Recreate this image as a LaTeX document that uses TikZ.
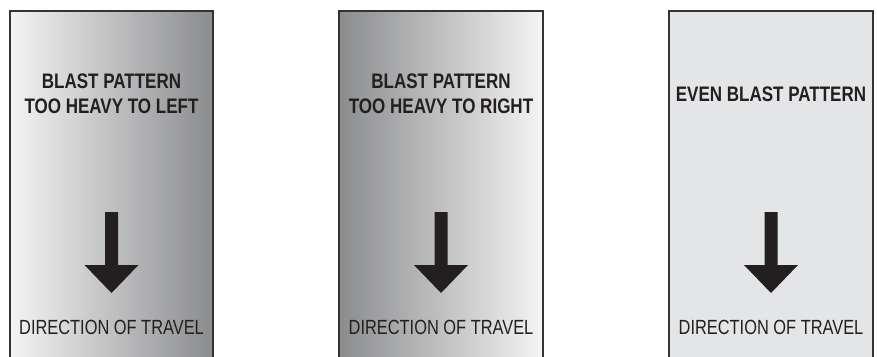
\documentclass[tikz,border=0pt]{standalone}
\usepackage{fontspec}
\setmainfont[FakeStretch=0.8]{Liberation Sans}
\newfontfamily\condbold[FakeStretch=0.81]{Liberation Sans}
\definecolor{ink}{HTML}{231F20}
\definecolor{frame}{HTML}{333333}
\definecolor{lightg}{HTML}{F4F4F4}
\definecolor{darkg}{HTML}{8B8C8E}
\definecolor{flatg}{HTML}{E4E5E7}
\begin{document}
\begin{tikzpicture}[x=1pt,y=1pt,
  panelframe/.style={draw=frame,line width=1.6pt},
  titletext/.style={anchor=base,inner sep=0pt,text=ink,font=\condbold\bfseries\fontsize{21}{24}\selectfont},
  dirtext/.style={anchor=base,inner sep=0pt,text=ink,font=\fontsize{20.5}{24}\selectfont},
  arrowshape/.style={fill=ink,draw=none}]
\useasboundingbox (0,0) rectangle (877,-356);
% panel 1
\shade[left color=lightg,right color=darkg] (10,-11) rectangle (213,-360);
\draw[panelframe] (10,-360) -- (10,-11) -- (213,-11) -- (213,-360);
\node[titletext] (t1a) at (111.5,-88) {BLAST PATTERN};
\node[titletext] (t1b) at (111.5,-113) {TOO HEAVY TO LEFT};
\fill[arrowshape] (105,-212) -- (118,-212) -- (118,-265) -- (138.5,-265) -- (111.5,-293) -- (84.5,-265) -- (105,-265) -- cycle;
\node[dirtext] (d1) at (111.5,-334) {DIRECTION OF TRAVEL};
% panel 2
\shade[left color=darkg,right color=lightg] (339,-11) rectangle (543,-360);
\draw[panelframe] (339,-360) -- (339,-11) -- (543,-11) -- (543,-360);
\node[titletext] (t2a) at (441,-88) {BLAST PATTERN};
\node[titletext] (t2b) at (441,-113) {TOO HEAVY TO RIGHT};
\fill[arrowshape] (434.5,-212) -- (447.5,-212) -- (447.5,-265) -- (468,-265) -- (441,-293) -- (414,-265) -- (434.5,-265) -- cycle;
\node[dirtext] (d2) at (441,-334) {DIRECTION OF TRAVEL};
% panel 3
\fill[flatg] (669,-11) rectangle (873,-360);
\draw[panelframe] (669,-360) -- (669,-11) -- (873,-11) -- (873,-360);
\node[titletext] (t3) at (771,-101) {EVEN BLAST PATTERN};
\fill[arrowshape] (764.5,-212) -- (777.5,-212) -- (777.5,-265) -- (798,-265) -- (771,-293) -- (744,-265) -- (764.5,-265) -- cycle;
\node[dirtext] (d3) at (771,-334) {DIRECTION OF TRAVEL};
\end{tikzpicture}
\end{document}
